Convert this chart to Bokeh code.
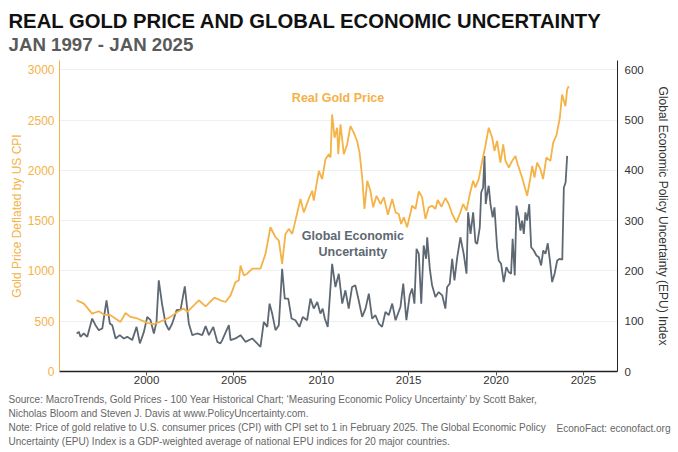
from bokeh.plotting import figure
from bokeh.models import Range1d, LinearAxis, Label, FixedTicker, Title
from bokeh.embed import file_html
from bokeh.resources import INLINE

gold_year = [1996.00, 1996.41, 1996.89, 1997.27, 1997.56, 1997.94, 1998.51, 1998.80, 1999.08, 1999.47,
             2000.04, 2000.42, 2000.99, 2001.37, 2001.76, 2002.13, 2002.33, 2002.52, 2002.99, 2003.38,
             2003.89, 2004.23, 2004.52, 2004.81, 2005.09, 2005.28, 2005.38, 2005.57, 2005.76, 2006.05,
             2006.52, 2006.81, 2007.09, 2007.38, 2007.57, 2007.76, 2007.95, 2008.14, 2008.34, 2008.52,
             2008.81, 2009.00, 2009.28, 2009.48, 2009.57, 2009.86, 2010.05, 2010.24, 2010.43, 2010.53,
             2010.62, 2010.76, 2010.91, 2010.97, 2011.10, 2011.29, 2011.48, 2011.67, 2011.86, 2012.05,
             2012.19, 2012.34, 2012.47, 2012.63, 2012.81, 2012.97, 2013.16, 2013.39, 2013.58, 2013.81,
             2014.06, 2014.25, 2014.43, 2014.57, 2014.72, 2014.91, 2015.20, 2015.39, 2015.58, 2015.77,
             2015.96, 2016.15, 2016.34, 2016.53, 2016.66, 2016.88, 2017.10, 2017.29, 2017.49, 2017.73,
             2017.96, 2018.12, 2018.31, 2018.50, 2018.69, 2018.82, 2019.01, 2019.21, 2019.39, 2019.58,
             2019.78, 2019.91, 2020.06, 2020.25, 2020.41, 2020.54, 2020.73, 2020.92, 2021.11, 2021.24,
             2021.49, 2021.78, 2021.97, 2022.07, 2022.20, 2022.35, 2022.54, 2022.69, 2022.88, 2023.11,
             2023.27, 2023.46, 2023.65, 2023.78, 2023.97, 2024.07, 2024.16]
gold_price = [708, 675, 576, 599, 566, 559, 493, 582, 543, 527,
              483, 470, 510, 543, 592, 626, 592, 626, 708, 648,
              735, 708, 691, 757, 889, 906, 1054, 955, 972, 1022,
              1022, 1170, 1434, 1335, 1302, 1071, 1368, 1418, 1368, 1500,
              1715, 1582, 1715, 1797, 1698, 1995, 1913, 2111, 2160, 2127,
              2556, 2325, 2424, 2160, 2457, 2160, 2259, 2440, 2374, 2292,
              2176, 1929, 1616, 1896, 1797, 1632, 1747, 1665, 1731, 1559,
              1715, 1582, 1566, 1467, 1533, 1434, 1648, 1616, 1790, 1731,
              1517, 1632, 1648, 1616, 1705, 1638, 1725, 1665, 1566, 1483,
              1582, 1665, 1599, 1764, 1896, 1830, 1913, 2094, 2242, 2424,
              2325, 2193, 2292, 2077, 2259, 2094, 2028, 2094, 2143, 2061,
              1929, 1747, 1929, 2044, 1929, 2077, 2012, 1913, 2127, 2094,
              2275, 2351, 2523, 2754, 2638, 2804, 2836]

epu_year = [1996.00, 1996.13, 1996.22, 1996.41, 1996.61, 1996.89, 1997.08, 1997.27, 1997.47, 1997.71,
            1997.90, 1998.04, 1998.23, 1998.47, 1998.70, 1998.90, 1999.18, 1999.43, 1999.62, 1999.85,
            2000.04, 2000.23, 2000.42, 2000.57, 2000.70, 2000.90, 2001.09, 2001.28, 2001.47, 2001.72,
            2001.95, 2002.19, 2002.42, 2002.62, 2002.90, 2003.19, 2003.38, 2003.57, 2003.82, 2004.05,
            2004.23, 2004.33, 2004.71, 2004.81, 2005.09, 2005.38, 2005.66, 2006.05, 2006.33, 2006.52,
            2006.71, 2006.91, 2007.04, 2007.19, 2007.38, 2007.57, 2007.76, 2007.91, 2008.11, 2008.30,
            2008.52, 2008.75, 2008.94, 2009.19, 2009.38, 2009.57, 2009.77, 2009.95, 2010.08, 2010.20,
            2010.37, 2010.62, 2010.81, 2011.00, 2011.20, 2011.38, 2011.57, 2011.76, 2011.95, 2012.14,
            2012.34, 2012.53, 2012.72, 2012.91, 2013.10, 2013.29, 2013.48, 2013.67, 2013.86, 2014.06,
            2014.25, 2014.53, 2014.69, 2014.87, 2015.06, 2015.20, 2015.33, 2015.45, 2015.58, 2015.72,
            2015.86, 2016.00, 2016.06, 2016.21, 2016.34, 2016.53, 2016.72, 2016.92, 2017.10, 2017.20,
            2017.35, 2017.49, 2017.62, 2017.78, 2017.96, 2018.15, 2018.31, 2018.40, 2018.54, 2018.69,
            2018.82, 2018.92, 2019.07, 2019.15, 2019.26, 2019.34, 2019.41, 2019.49, 2019.58, 2019.68,
            2019.81, 2019.91, 2020.06, 2020.15, 2020.29, 2020.44, 2020.59, 2020.73, 2020.86, 2020.95,
            2021.07, 2021.17, 2021.30, 2021.40, 2021.49, 2021.59, 2021.68, 2021.78, 2021.90, 2022.01,
            2022.16, 2022.31, 2022.45, 2022.58, 2022.70, 2022.83, 2022.96, 2023.08, 2023.21, 2023.35,
            2023.50, 2023.65, 2023.79, 2023.88, 2023.98, 2024.07]
epu_index = [75.6, 78.8, 68.9, 75.6, 68.9, 105.3, 92.1, 82.2, 85.5, 141.6,
             95.4, 92.1, 65.7, 72.3, 65.7, 68.9, 62.4, 88.7, 55.8, 78.8,
             108.5, 102.0, 75.6, 98.6, 181.2, 131.7, 95.4, 82.2, 95.4, 121.8,
             123.2, 169.3, 95.4, 72.3, 75.6, 72.3, 90.1, 72.3, 88.7, 59.0,
             55.8, 62.4, 92.1, 62.4, 65.7, 72.3, 59.0, 65.7, 55.8, 49.1,
             98.6, 88.7, 135.0, 115.2, 82.2, 92.1, 204.3, 144.9, 144.9, 105.3,
             102.0, 88.7, 108.5, 102.0, 144.9, 125.1, 138.2, 115.2, 125.1, 105.3,
             88.7, 214.2, 167.9, 194.4, 135.0, 161.4, 125.1, 167.9, 171.3, 141.6,
             108.5, 125.1, 154.8, 105.3, 111.9, 95.4, 88.7, 118.4, 111.9, 135.0,
             102.0, 128.3, 174.6, 102.0, 151.5, 164.7, 135.0, 243.9, 234.0, 135.0,
             250.5, 224.1, 266.9, 204.3, 171.3, 148.1, 158.0, 151.5, 125.1, 167.9,
             174.6, 224.1, 181.2, 227.3, 266.9, 234.0, 194.4, 316.4, 273.6, 316.4,
             257.0, 253.8, 286.7, 356.0, 365.9, 428.7, 333.0, 352.8, 369.3, 333.0,
             306.5, 326.3, 247.1, 220.8, 214.2, 177.8, 207.5, 197.6, 194.4, 263.7,
             191.1, 329.7, 306.5, 280.2, 300.0, 273.6, 316.4, 300.0, 333.0, 247.1,
             240.6, 230.7, 227.3, 210.9, 240.6, 234.0, 255.0, 220.8, 177.8, 194.4,
             220.8, 224.1, 222.2, 365.9, 375.8, 428.7]

x_ticks = [2000, 2005, 2010, 2015, 2020, 2025]
gold_ticks = [0, 500, 1000, 1500, 2000, 2500, 3000]
epu_ticks = [0, 100, 200, 300, 400, 500, 600]

title_text = "REAL GOLD PRICE AND GLOBAL ECONOMIC UNCERTAINTY"
subtitle_text = "JAN 1997 - JAN 2025"
notes = [
    "Source: MacroTrends, Gold Prices - 100 Year Historical Chart; \u2018Measuring Economic Policy Uncertainty\u2019 by Scott Baker,",
    "Nicholas Bloom and Steven J. Davis at www.PolicyUncertainty.com.",
    "Note: Price of gold relative to U.S. consumer prices (CPI) with CPI set to 1 in February 2025. The Global Economic Policy",
    "Uncertainty (EPU) Index is a GDP-weighted average of national EPU indices for 20 major countries.",
]
credit = "EconoFact: econofact.org"

GOLD = "#F4B247"
GREY = "#5E6873"
FONT = "Liberation Sans"

p = figure(width=678, height=452, output_backend="svg", toolbar_location=None,
           x_range=Range1d(1995.02, 2026.95), y_range=Range1d(0, 3092),
           min_border_left=59, min_border_right=61, min_border_top=59, min_border_bottom=81,
           background_fill_color="white", border_fill_color="white")
p.outline_line_color = None
p.extra_y_ranges = {"epu": Range1d(0, 3092 / 5.0)}


def row(text, side, size, color, standoff, style="normal", align="left", offset=-51, valign="bottom"):
    t = Title(text=text, align=align, offset=offset, standoff=standoff, vertical_align=valign,
              text_font=FONT, text_font_size=size, text_color=color, text_font_style=style)
    p.add_layout(t, side)


# header rows (first added is nearest the plot)
row(subtitle_text, "above", "18.7px", "#5A5A5A", 10.4, style="bold")
row(title_text, "above", "20.25px", "#111111", -14.4, style="bold", valign="top")
row(" ", "above", "1px", "#ffffff", 13.5)

p.xgrid.visible = False
p.ygrid.ticker = FixedTicker(ticks=gold_ticks)
p.ygrid.grid_line_color = "#EFEFEF"
p.ygrid.grid_line_width = 1

xa = p.xaxis[0]
xa.ticker = FixedTicker(ticks=x_ticks)
xa.axis_line_color = "#222222"
xa.axis_line_width = 1.5
xa.major_tick_line_color = "#555555"
xa.major_tick_out = 4
xa.major_tick_in = 0
xa.minor_tick_line_color = None
xa.major_label_standoff = 0
xa.major_label_text_font = FONT
xa.major_label_text_font_size = "11.5px"
xa.major_label_text_color = "#333333"

ya = p.yaxis[0]
ya.ticker = FixedTicker(ticks=gold_ticks)
ya.axis_line_color = GOLD
ya.major_tick_line_color = None
ya.minor_tick_line_color = None
ya.major_tick_out = 0
ya.major_tick_in = 0
ya.major_label_standoff = 5
ya.major_label_text_font = FONT
ya.major_label_text_font_size = "12px"
ya.major_label_text_color = GOLD
ya.axis_label = "Gold Price Deflated by US CPI"
ya.axis_label_text_font = FONT
ya.axis_label_text_font_style = "normal"
ya.axis_label_text_font_size = "12px"
ya.axis_label_text_color = GOLD
ya.axis_label_standoff = 1

ra = LinearAxis(y_range_name="epu", ticker=FixedTicker(ticks=epu_ticks))
ra.axis_line_color = "#222222"
ra.major_tick_line_color = None
ra.minor_tick_line_color = None
ra.major_tick_out = 0
ra.major_tick_in = 0
ra.major_label_standoff = 7
ra.major_label_text_font = FONT
ra.major_label_text_font_size = "11.5px"
ra.major_label_text_color = "#333333"
ra.axis_label = "Global Economic Policy Uncertainty (EPU) Index"
ra.axis_label_text_font = FONT
ra.axis_label_text_font_style = "normal"
ra.axis_label_text_font_size = "12px"
ra.axis_label_text_color = "#333333"
ra.axis_label_standoff = 9
p.add_layout(ra, "right")

# footnote rows (after the x axis, going down)
row(" ", "below", "1px", "#ffffff", 1.8)
for t in notes:
    row(t, "below", "10px", "#666666", 1)
row(credit, "below", "10px", "#666666", -50, align="right", offset=-53, valign="top")

p.line(epu_year, epu_index, y_range_name="epu", line_color=GREY, line_width=1.8)
p.line(gold_year, gold_price, line_color=GOLD, line_width=1.8)

p.add_layout(Label(x=2010.96, y=2717, text="Real Gold Price", text_align="center",
                   text_baseline="middle", text_font=FONT, text_font_style="bold",
                   text_font_size="12.5px", text_color=GOLD))
p.add_layout(Label(x=2011.81, y=1345, text="Global Economic", text_align="center",
                   text_baseline="middle", text_font=FONT, text_font_style="bold",
                   text_font_size="12.5px", text_color=GREY))
p.add_layout(Label(x=2011.81, y=1190, text="Uncertainty", text_align="center",
                   text_baseline="middle", text_font=FONT, text_font_style="bold",
                   text_font_size="12.5px", text_color=GREY))

open("out.html", "w").write(file_html(p, INLINE))
